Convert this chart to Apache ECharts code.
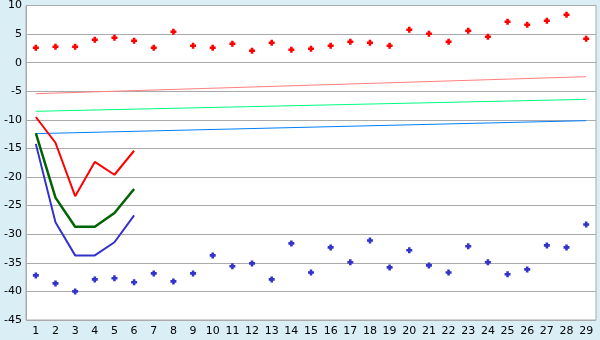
<!DOCTYPE html>
<html>
<head>
<meta charset="utf-8">
<script src="https://cdn.jsdelivr.net/npm/echarts@6/dist/echarts.min.js"></script>
<style>
html,body{margin:0;padding:0;background:#d9eef5;}
#chart{width:600px;height:340px;}
</style>
</head>
<body>
<div id="chart"></div>
<script>
var categories = ['1','2','3','4','5','6','7','8','9','10','11','12','13','14','15','16','17','18','19','20','21','22','23','24','25','26','27','28','29'];
var redPoints = [2.6,2.78,2.78,4.0,4.35,3.83,2.6,5.4,2.96,2.6,3.3,2.08,3.48,2.26,2.44,2.96,3.65,3.48,2.96,5.75,5.05,3.66,5.58,4.53,7.15,6.63,7.32,8.37,4.18];
var bluePoints = [-37.2,-38.6,-40.0,-37.9,-37.7,-38.4,-36.85,-38.25,-36.85,-33.7,-35.6,-35.1,-37.9,-31.6,-36.7,-32.3,-34.9,-31.1,-35.8,-32.8,-35.45,-36.7,-32.1,-34.9,-37.0,-36.15,-31.95,-32.3,-28.3];
var redLine = [-9.5,-14.0,-23.35,-17.35,-19.6,-15.4];
var greenLine = [-12.3,-23.6,-28.7,-28.7,-26.3,-22.1];
var blueLine = [-14.2,-27.9,-33.7,-33.7,-31.4,-26.7];
var pinkTrend = [[0,-5.42],[28,-2.45]];
var greenTrend = [[0,-8.5],[28,-6.41]];
var blueTrend = [[0,-12.41],[28,-10.14]];

var cross = 'path://M2,0H5V2H7V5H5V7H2V5H0V2H2Z';
var chart = echarts.init(document.getElementById('chart'));
chart.setOption({
  animation:false,
  backgroundColor:'#d9eef5',
  textStyle:{fontFamily:'DejaVu Sans',fontSize:11,color:'#000'},
  grid:{left:26,right:4,top:5,bottom:20,show:true,backgroundColor:'#fff',borderColor:'#aaaaaa',borderWidth:1},
  xAxis:{type:'category',data:categories,boundaryGap:true,
    axisLine:{lineStyle:{color:'#aaaaaa'}},
    axisTick:{alignWithLabel:true,length:5,lineStyle:{color:'#000'}},
    axisLabel:{color:'#000',fontSize:11,margin:6,interval:0}},
  yAxis:{type:'value',min:-45,max:10,interval:5,
    axisLine:{show:true,lineStyle:{color:'#aaaaaa'}},
    axisTick:{show:false},
    axisLabel:{color:'#000',fontSize:11,margin:4},
    splitLine:{lineStyle:{color:'#aaaaaa'}}},
  series:[
    {type:'line',data:pinkTrend,symbol:'none',lineStyle:{color:'#ff8080',width:1}},
    {type:'line',data:greenTrend,symbol:'none',lineStyle:{color:'#00ff80',width:1}},
    {type:'line',data:blueTrend,symbol:'none',lineStyle:{color:'#0080ff',width:1}},
    {type:'line',data:redLine,symbol:'none',lineStyle:{color:'#ff0000',width:2}},
    {type:'line',data:greenLine,symbol:'none',lineStyle:{color:'#006400',width:2.5}},
    {type:'line',data:blueLine,symbol:'none',lineStyle:{color:'#3333cc',width:2}},
    {type:'scatter',data:redPoints,symbol:cross,symbolSize:6,itemStyle:{color:'#ff0000',opacity:1}},
    {type:'scatter',data:bluePoints,symbol:cross,symbolSize:6,itemStyle:{color:'#3333cc',opacity:1}}
  ]
});
</script>
</body>
</html>
